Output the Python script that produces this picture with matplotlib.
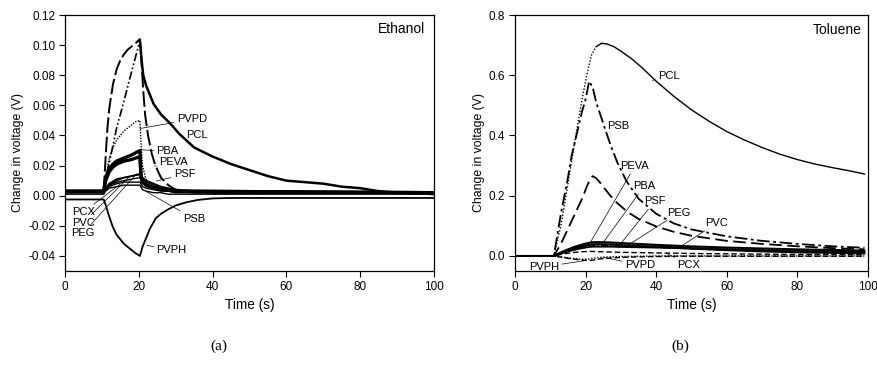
import matplotlib
matplotlib.use("Agg")
import matplotlib.pyplot as plt
import numpy as np

plt.rcParams['font.family'] = ['Liberation Sans', 'DejaVu Sans']
plt.rcParams['axes.unicode_minus'] = False

# ---------------- Ethanol (a) ----------------
tE_PCL = [0, 10.5, 12, 14, 16, 18, 20.3, 20.8, 21.2, 22, 24, 26, 28.5, 31, 35, 40, 45, 50, 55, 60, 65, 70, 75, 80, 85, 90, 95, 100]
vE_PCL = [0.003, 0.003, 0.022, 0.045, 0.063, 0.082, 0.103, 0.089, 0.080, 0.073, 0.061, 0.054, 0.048, 0.041, 0.032,
          0.026, 0.021, 0.017, 0.013, 0.010, 0.009, 0.008, 0.006, 0.005, 0.003, 0.002, 0.002, 0.001]

tE_other = [0, 10.5, 11, 11.5, 12, 13, 14, 15, 16, 17, 18, 19, 20.3, 20.7, 21.2, 21.7, 22.5, 23.5, 24.5, 26, 28, 30, 35, 40, 100]
vE_other = [0.003, 0.003, 0.025, 0.045, 0.058, 0.074, 0.084, 0.090, 0.094, 0.097, 0.099, 0.101, 0.104, 0.090, 0.070,
            0.054, 0.040, 0.028, 0.020, 0.012, 0.007, 0.004, 0.003, 0.002, 0.002]

tE_PVPD = [0, 10.5, 11, 12, 13, 14, 15, 16, 17, 18, 19, 20.3, 20.6, 21, 22, 23, 25, 30, 100]
vE_PVPD = [0.002, 0.002, 0.012, 0.025, 0.032, 0.037, 0.040, 0.043, 0.045, 0.047, 0.049, 0.050, 0.035, 0.020, 0.010,
           0.006, 0.004, 0.003, 0.002]

tE_band = [0, 10.5, 11, 12, 13, 14, 16, 18, 20.3, 20.6, 21, 22, 24, 27, 30, 100]
vE_PBA = [0.003, 0.003, 0.012, 0.018, 0.021, 0.023, 0.025, 0.027, 0.030, 0.013, 0.009, 0.007, 0.005, 0.004, 0.003, 0.002]
vE_PEVA = [0.003, 0.003, 0.010, 0.016, 0.019, 0.021, 0.023, 0.024, 0.026, 0.012, 0.009, 0.007, 0.005, 0.004, 0.003, 0.002]

tE_small = [0, 10.5, 11, 12, 14, 16, 18, 20.3, 21, 22, 24, 26, 28, 30, 35, 100]
vE_PSF = [0.003, 0.003, 0.005, 0.008, 0.011, 0.012, 0.013, 0.0145, 0.012, 0.010, 0.008, 0.006, 0.005, 0.004, 0.003, 0.002]
vE_PCX = [0.003, 0.003, 0.005, 0.007, 0.009, 0.010, 0.011, 0.012, 0.010, 0.008, 0.006, 0.005, 0.004, 0.003, 0.002, 0.002]
vE_PVC = [0.002, 0.002, 0.004, 0.007, 0.010, 0.012, 0.013, 0.014, 0.011, 0.009, 0.007, 0.005, 0.004, 0.003, 0.002, 0.002]
vE_PEG = [0.002, 0.002, 0.004, 0.006, 0.008, 0.009, 0.009, 0.009, 0.006, 0.005, 0.004, 0.003, 0.003, 0.002, 0.002, 0.002]
vE_PSB = [0.001, 0.001, 0.003, 0.005, 0.006, 0.007, 0.007, 0.007, 0.004, 0.003, 0.002, 0.002, 0.001, 0.001, 0.001, 0.001]

tE_PVPH = [0, 10.5, 11, 12, 13, 14, 15, 16, 17, 18, 19, 20.3, 21, 22, 23, 24.6, 26, 28, 30, 33, 36, 40, 45, 50, 100]
vE_PVPH = [-0.0025, -0.0025, -0.006, -0.014, -0.021, -0.026, -0.029, -0.032, -0.034, -0.036, -0.038, -0.040, -0.034,
           -0.028, -0.022, -0.015, -0.012, -0.009, -0.0065, -0.0043, -0.0028, -0.0018, -0.0015, -0.0015, -0.0015]

# ---------------- Toluene (b) ----------------
tT_PCL = [0, 11, 13, 15, 17, 19, 20.5, 21.7, 23, 24.5, 26, 28, 30, 33, 36, 40, 45, 50, 55, 60, 65, 70, 75, 80, 85, 90, 95, 99]
vT_PCL = [0, 0, 0.10, 0.24, 0.385, 0.52, 0.61, 0.668, 0.695, 0.706, 0.704, 0.695, 0.680, 0.655, 0.625, 0.580, 0.530,
          0.485, 0.447, 0.413, 0.385, 0.360, 0.338, 0.320, 0.305, 0.293, 0.282, 0.272]

tT_PSB = [0, 11, 12, 13, 14, 15, 16, 17, 18, 19, 20, 20.5, 21, 22, 23, 24, 25, 27, 29, 31.5, 35, 40, 45, 50, 60, 70, 80, 90, 99]
vT_PSB = [0, 0, 0.07, 0.14, 0.20, 0.26, 0.33, 0.38, 0.43, 0.48, 0.52, 0.55, 0.58, 0.56, 0.51, 0.475, 0.44, 0.37,
          0.31, 0.25, 0.19, 0.14, 0.108, 0.088, 0.065, 0.050, 0.040, 0.032, 0.027]

tT_other = [0, 11, 13, 15, 17, 19, 20.5, 21.5, 22, 23, 24, 25, 27, 29, 32, 35, 40, 45, 50, 60, 70, 80, 90, 99]
vT_other = [0, 0, 0.04, 0.09, 0.14, 0.19, 0.235, 0.258, 0.265, 0.258, 0.245, 0.23, 0.20, 0.175, 0.145, 0.123, 0.098,
            0.080, 0.067, 0.050, 0.040, 0.032, 0.026, 0.022]

tT_small = [0, 11, 13, 15, 17, 19, 21, 22, 24, 27, 30, 35, 40, 46, 50, 60, 70, 80, 90, 99]
vT_PEVA = [0, 0, 0.012, 0.022, 0.031, 0.038, 0.044, 0.046, 0.046, 0.045, 0.043, 0.040, 0.037, 0.034, 0.032, 0.028, 0.025, 0.022, 0.020, 0.018]
vT_PBA = [0, 0, 0.011, 0.020, 0.029, 0.036, 0.041, 0.043, 0.043, 0.042, 0.040, 0.037, 0.034, 0.031, 0.029, 0.025, 0.022, 0.020, 0.018, 0.016]
vT_PSF = [0, 0, 0.010, 0.018, 0.026, 0.032, 0.037, 0.039, 0.039, 0.038, 0.036, 0.033, 0.031, 0.028, 0.026, 0.022, 0.019, 0.017, 0.015, 0.013]
vT_PEG = [0, 0, 0.009, 0.016, 0.023, 0.029, 0.033, 0.035, 0.035, 0.034, 0.033, 0.031, 0.028, 0.026, 0.024, 0.020, 0.017, 0.014, 0.012, 0.010]
vT_PVC = [0, 0, 0.008, 0.015, 0.021, 0.026, 0.030, 0.031, 0.031, 0.031, 0.030, 0.029, 0.028, 0.026, 0.024, 0.019, 0.015, 0.012, 0.010, 0.008]
vT_PCX = [0, 0, 0.005, 0.009, 0.012, 0.014, 0.015, 0.015, 0.014, 0.013, 0.012, 0.011, 0.010, 0.009, 0.008, 0.007, 0.006, 0.005, 0.005, 0.004]
vT_PVPH = [0, 0, -0.004, -0.008, -0.011, -0.014, -0.015, -0.014, -0.010, -0.007, -0.005, -0.003, -0.002, -0.001, -0.001, -0.001, -0.001, -0.001, -0.001, -0.001]
vT_PVPD = [0, 0, -0.003, -0.006, -0.009, -0.011, -0.010, -0.008, -0.005, -0.003, -0.002, -0.001, 0, 0, 0, 0, 0, 0, 0, 0]

xticks = [0, 20, 40, 60, 80, 100]
yticksE = [-0.04, -0.02, 0.00, 0.02, 0.04, 0.06, 0.08, 0.10, 0.12]
yticksT = [0.0, 0.2, 0.4, 0.6, 0.8]

# annotations: (label, text x, text y, point x, point y, ha)
annE = [("PVPD", 30.3, 0.0507, 20.3, 0.0446, 'left'),
        ("PCL", 32.8, 0.0400, 31.8, 0.0395, 'left'),
        ("PBA", 24.8, 0.0298, 20.8, 0.0304, 'left'),
        ("PEVA", 25.5, 0.0224, 24.3, 0.0196, 'left'),
        ("PSF", 29.5, 0.0141, 24.8, 0.0098, 'left'),
        ("PSB", 31.9, -0.0152, 22.1, 0.0026, 'left'),
        ("PVPH", 24.8, -0.0363, 22.3, -0.0330, 'left'),
        ("PCX", 8.1, -0.0109, 14.9, 0.0076, 'right'),
        ("PVC", 8.1, -0.0178, 17.6, 0.0130, 'right'),
        ("PEG", 8.1, -0.0248, 19.4, 0.0145, 'right')]
annT = [("PCL", 40.5, 0.596, 38.9, 0.583, 'left'),
        ("PSB", 26.2, 0.433, 25.2, 0.425, 'left'),
        ("PEVA", 29.9, 0.298, 21.3, 0.044, 'left'),
        ("PBA", 33.4, 0.231, 24.9, 0.043, 'left'),
        ("PSF", 36.5, 0.181, 29.7, 0.037, 'left'),
        ("PEG", 43.2, 0.144, 31.5, 0.032, 'left'),
        ("PVC", 53.9, 0.109, 46.2, 0.026, 'left'),
        ("PVPH", 12.5, -0.036, 20.2, -0.015, 'right'),
        ("PVPD", 31.1, -0.030, 24.9, -0.004, 'left'),
        ("PCX", 46.0, -0.030, 42.9, 0.009, 'left')]

fig = plt.figure(figsize=(8.78, 3.83), dpi=100)
axA = fig.add_axes([65/878, 1-271/383, (434-65)/878, (271-15)/383])
axB = fig.add_axes([515/878, 1-271/383, (868-515)/878, (271-15)/383])

k = 'black'
# Ethanol curves
axA.plot(tE_PVPH, vE_PVPH, color=k, lw=1.3)
axA.plot(tE_small, vE_PSB, color=k, lw=1.0)
axA.plot(tE_small, vE_PEG, color=k, lw=1.0)
axA.plot(tE_small, vE_PVC, color=k, lw=1.0)
axA.plot(tE_small, vE_PCX, color=k, lw=1.0)
axA.plot(tE_small, vE_PSF, color=k, lw=1.3)
axA.plot(tE_band, vE_PEVA, color=k, lw=2.4)
axA.plot(tE_band, vE_PBA, color=k, lw=2.4)
axA.plot(tE_PVPD, vE_PVPD, color=k, lw=1.0, ls=(0, (1, 1)))
axA.plot(tE_other, vE_other, color=k, lw=1.4, ls=(0, (8, 2)))
axA.plot(tE_PCL[:7], vE_PCL[:7], color=k, lw=1.2, ls=(0, (5, 1.5, 1, 1.5, 1, 1.5)))
axA.plot(tE_PCL[6:], vE_PCL[6:], color=k, lw=1.8)

# Toluene curves
axB.plot(tT_small, vT_PVPD, color=k, lw=1.0, ls=(0, (1, 1.2)))
axB.plot(tT_small, vT_PVPH, color=k, lw=1.0, ls=(0, (4, 2)))
axB.plot(tT_small, vT_PCX, color=k, lw=1.0, ls=(0, (4, 2)))
axB.plot(tT_small, vT_PVC, color=k, lw=1.4)
axB.plot(tT_small, vT_PEG, color=k, lw=1.0, ls=(0, (5, 1.5, 1, 1.5)))
axB.plot(tT_small, vT_PSF, color=k, lw=1.4)
axB.plot(tT_small, vT_PBA, color=k, lw=1.0, ls=(0, (1, 1)))
axB.plot(tT_small, vT_PEVA, color=k, lw=1.4)
axB.plot(tT_other, vT_other, color=k, lw=1.3, ls=(0, (7, 3)))
axB.plot(tT_PSB, vT_PSB, color=k, lw=1.3, ls=(0, (7, 2, 1.5, 2)))
axB.plot(tT_PCL[:9], vT_PCL[:9], color=k, lw=1.0, ls=(0, (1, 1.3)))
axB.plot(tT_PCL[8:], vT_PCL[8:], color=k, lw=1.0)

for ax, ann in ((axA, annE), (axB, annT)):
    for lab, tx, ty, px, py, ha in ann:
        ax.annotate(lab, xy=(px, py), xytext=(tx, ty), ha=ha, va='center', fontsize=8,
                    arrowprops=dict(arrowstyle='-', lw=0.5, color=k, shrinkA=0, shrinkB=0))

axA.set_xlim(0, 100)
axA.set_ylim(-0.05, 0.12)
axA.set_yticks(yticksE)
axA.set_yticklabels([f"{v:.2f}" for v in yticksE])
axB.set_xlim(0, 100)
axB.set_ylim(-0.05, 0.8)
axB.set_yticks(yticksT)
axB.set_yticklabels([f"{v:.1f}" for v in yticksT])

for ax in (axA, axB):
    ax.set_xticks(xticks)
    ax.tick_params(direction='out', length=4, width=0.8, labelsize=8.5, pad=3, top=False, right=False)
    for s in ax.spines.values():
        s.set_linewidth(0.9)
    ax.set_ylabel("Change in voltage (V)", fontsize=8.8)

axA.yaxis.set_label_coords(-41/369, 0.463)
axB.yaxis.set_label_coords(-30/353, 0.463)
axA.set_xlabel("Time (s)", fontsize=9.8, labelpad=4)
axB.set_xlabel("Time (s)", fontsize=9.8, labelpad=4)
axA.text(0.977, 0.945, "Ethanol", transform=axA.transAxes, ha='right', va='center', fontsize=10)
axB.text(0.983, 0.94, "Toluene", transform=axB.transAxes, ha='right', va='center', fontsize=10)

fig.text(219/878, 1-346/383, "(a)", ha='center', va='center', fontsize=11, family='Liberation Serif')
fig.text(680/878, 1-346/383, "(b)", ha='center', va='center', fontsize=11, family='Liberation Serif')

fig.savefig("out.png", dpi=100)
